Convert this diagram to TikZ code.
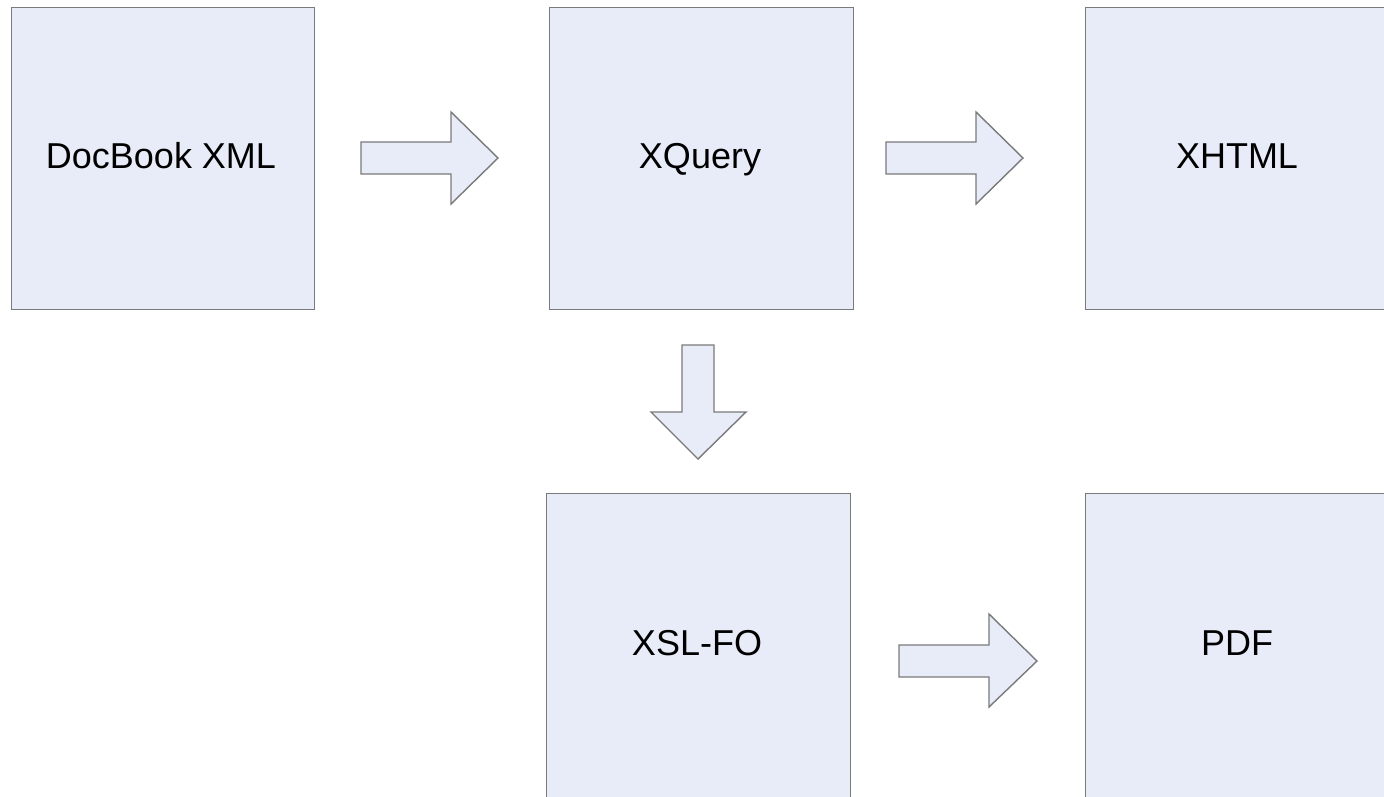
\documentclass[tikz,border=0pt]{standalone}
\usepackage{fontspec}
\setmainfont{Liberation Sans}
\definecolor{boxfill}{HTML}{E8ECF8}
\definecolor{boxline}{HTML}{7A7A7A}
\tikzset{
  blk/.style={draw=boxline, line width=1.4pt, fill=boxfill, anchor=north west, inner sep=0pt},
  lbl/.style={anchor=base, inner sep=0pt, font=\fontsize{36}{42}\selectfont},
  barrow/.style={draw=boxline, line width=1.4pt, fill=boxfill, line join=miter}
}
\begin{document}
\begin{tikzpicture}[x=1pt,y=-1pt]
\useasboundingbox (0,0) rectangle (1384,796);
\fill[white] (0,0) rectangle (1384,796);
\node[blk, minimum width=303pt, minimum height=302pt] (docbook) at (11,7) {};
\node[blk, minimum width=304pt, minimum height=302pt] (xquery) at (549,7) {};
\node[blk, minimum width=310pt, minimum height=302pt] (xhtml) at (1085,7) {};
\node[blk, minimum width=304pt, minimum height=320pt] (xslfo) at (546,493) {};
\node[blk, minimum width=310pt, minimum height=320pt] (pdf) at (1085,493) {};
\node[lbl] (docbookt) at (161,168) {DocBook XML};
\node[lbl] (xqueryt) at (700,168) {XQuery};
\node[lbl] (xhtmlt) at (1237,168) {XHTML};
\node[lbl] (xslfot) at (697,655) {XSL-FO};
\node[lbl] (pdft) at (1237,655) {PDF};
% block arrows
\draw[barrow] (361,142) -- (451,142) -- (451,112) -- (498,158) -- (451,204) -- (451,174) -- (361,174) -- cycle;
\draw[barrow] (886,142) -- (976,142) -- (976,112) -- (1023,158) -- (976,204) -- (976,174) -- (886,174) -- cycle;
\draw[barrow] (682,345) -- (714,345) -- (714,412) -- (746,412) -- (698,459) -- (651,412) -- (682,412) -- cycle;
\draw[barrow] (899,645) -- (989,645) -- (989,614) -- (1037,661) -- (989,707) -- (989,677) -- (899,677) -- cycle;
\end{tikzpicture}
\end{document}
